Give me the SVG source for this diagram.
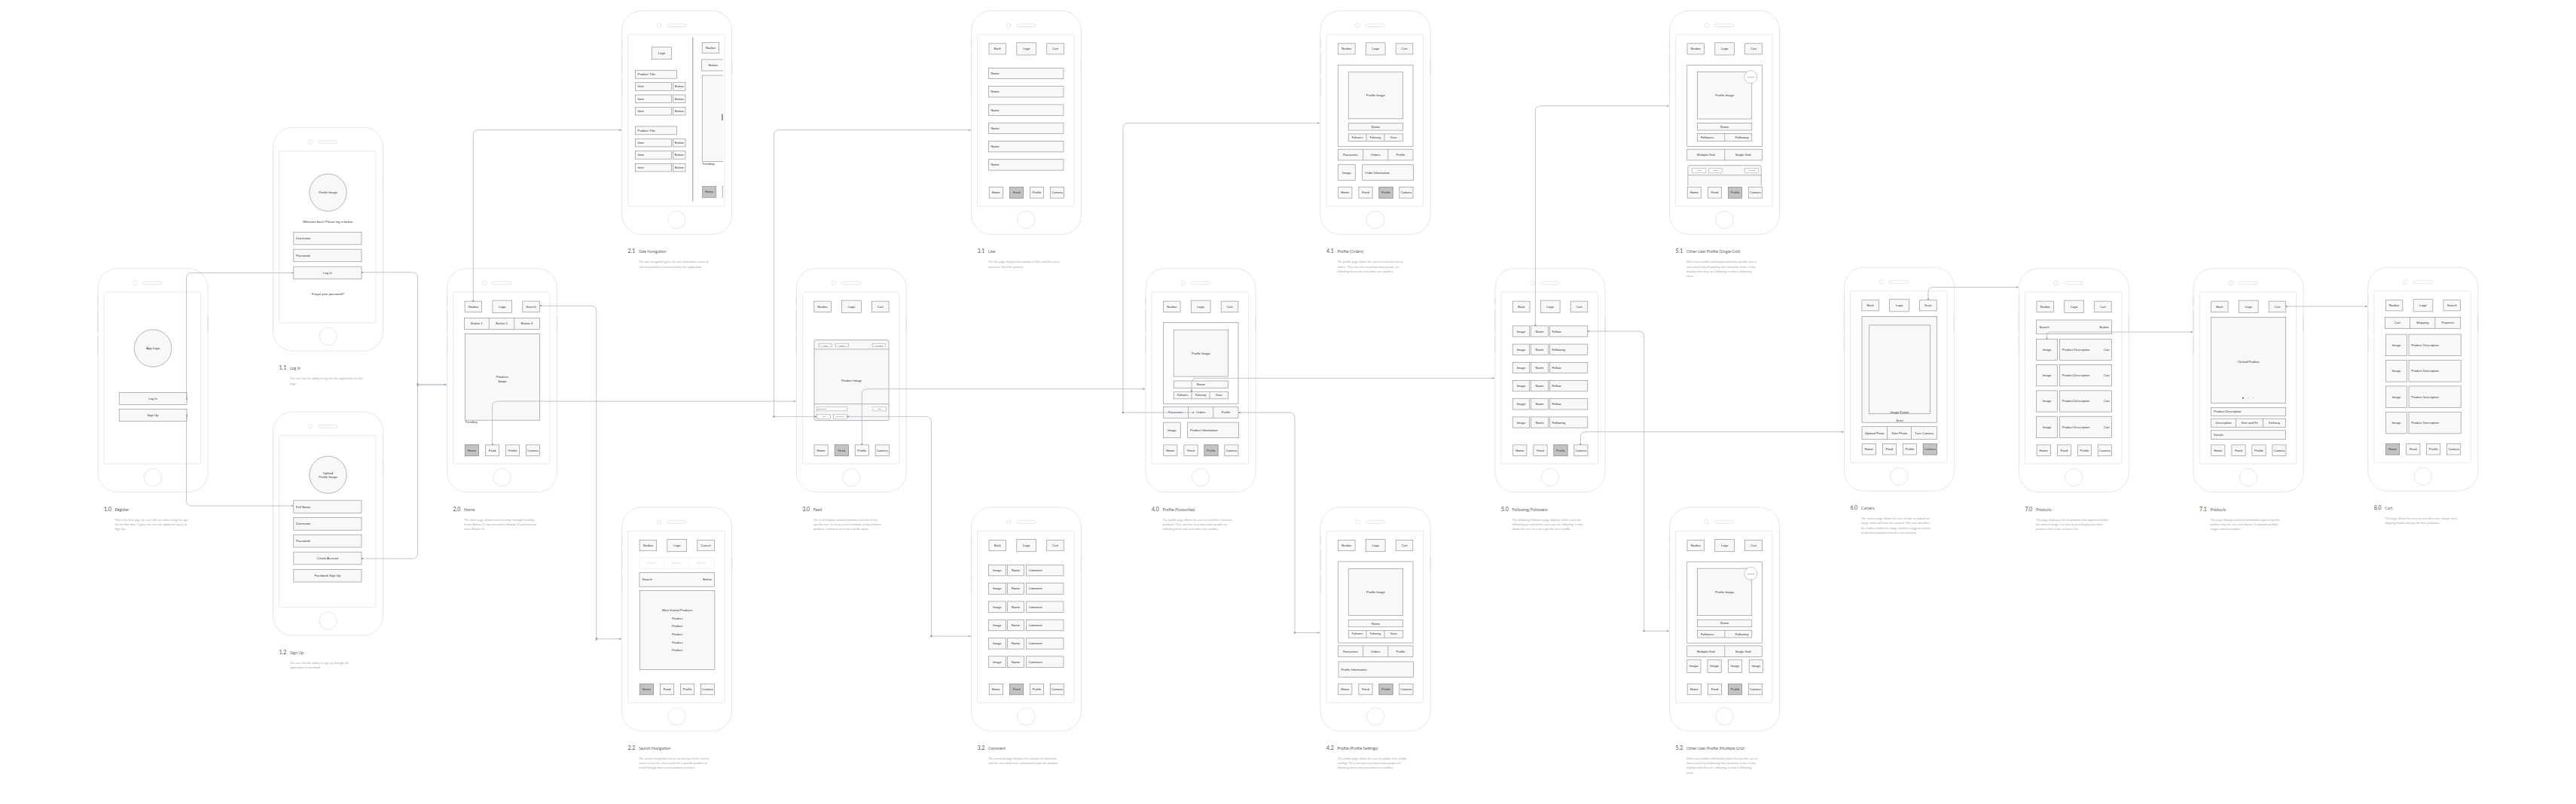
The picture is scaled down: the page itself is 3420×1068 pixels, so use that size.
<svg xmlns="http://www.w3.org/2000/svg" width="3420" height="1068" viewBox="0 0 3420 1068">
<style>
.ph{fill:#fff;stroke:#dedede;stroke-width:0.8}
.scr{fill:#fff;stroke:#e4e4e4;stroke-width:0.8}
.sb{fill:none;stroke:#e2e2e2;stroke-width:1.4}
.b{fill:#f8f8f8;stroke:#8e8e8e;stroke-width:0.65}
.bh{fill:#c3c3c3;stroke:#8e8e8e;stroke-width:0.65}
.o{fill:none;stroke:#8e8e8e;stroke-width:0.65}
.w{fill:#fff;stroke:#8e8e8e;stroke-width:0.45}
.t{font-family:"Liberation Sans",Arial,sans-serif;font-size:4.2px;fill:#333;dominant-baseline:central}
.c{text-anchor:middle}
.e{text-anchor:end}
.s{font-size:3.4px}
.xs{font-size:2.3px}
.num{font-family:Lato,"Open Sans",sans-serif;font-size:7px;fill:#555}
.ttl{font-family:Lato,"Open Sans",sans-serif;font-size:5.3px;fill:#666}
.d{font-family:Lato,"Open Sans",sans-serif;font-size:3.9px;fill:#a3a3a3}
.cn{fill:none;stroke:#a9b3c0;stroke-width:0.75}
.mk{fill:#8f9cae}
</style>
<defs>
<marker id="ar" viewBox="0 0 6 6" refX="5.5" refY="3" markerWidth="3.2" markerHeight="3.2" orient="auto" markerUnits="userSpaceOnUse"><path d="M0,0.5 L6,3 L0,5.5 Z" fill="#9aa5b4"/></marker>
<marker id="sq" viewBox="0 0 4 4" refX="2" refY="2" markerWidth="2.2" markerHeight="2.2" markerUnits="userSpaceOnUse"><rect width="4" height="4" fill="#8f9cae"/></marker>
<g id="phone">
<rect class="ph" x="0" y="0" width="146" height="297" rx="26"/>
<rect class="scr" x="8" y="31.5" width="128.5" height="228" rx="1.5"/>
<circle class="ph" cx="49.5" cy="19.4" r="2.8"/>
<rect class="ph" x="60" y="17.6" width="25.5" height="3.6" rx="1.8"/>
<circle class="ph" cx="73" cy="277.6" r="11.7"/>
<path class="sb" d="M0,38V49M0,56V84M0,90V113M146,65V84"/>
</g>
<g id="bnav">
<rect class="b" x="23.7" y="234.3" width="18.2" height="14.5"/>
<rect class="b" x="50.9" y="234.3" width="18.2" height="14.5"/>
<rect class="b" x="77.9" y="234.3" width="18.2" height="14.5"/>
<rect class="b" x="104.8" y="234.3" width="18.2" height="14.5"/>
<text class="t c" x="32.8" y="241.55">Home</text>
<text class="t c" x="60" y="241.55">Feed</text>
<text class="t c" x="87" y="241.55">Profile</text>
<text class="t c" x="113.9" y="241.55">Camera</text>
</g>
<g id="hHome"><rect class="bh" x="23.7" y="234.3" width="18.2" height="14.5"/><text class="t c" x="32.8" y="241.55">Home</text></g>
<g id="hFeed"><rect class="bh" x="50.9" y="234.3" width="18.2" height="14.5"/><text class="t c" x="60" y="241.55">Feed</text></g>
<g id="hProfile"><rect class="bh" x="77.9" y="234.3" width="18.2" height="14.5"/><text class="t c" x="87" y="241.55">Profile</text></g>
<g id="hCamera"><rect class="bh" x="104.8" y="234.3" width="18.2" height="14.5"/><text class="t c" x="113.9" y="241.55">Camera</text></g>
<g id="tbL"><rect class="b" x="60.3" y="42.5" width="25.8" height="16.2"/><text class="t c" x="73.2" y="50.6">Logo</text></g>
<g id="tbNav"><rect class="b" x="23.5" y="43.5" width="22.6" height="14.2"/><text class="t c" x="34.8" y="50.6">Navbar</text></g>
<g id="tbBack"><rect class="b" x="23.5" y="43.5" width="22.6" height="14.2"/><text class="t c" x="34.8" y="50.6">Back</text></g>
<g id="tbCart"><rect class="b" x="100.2" y="43.5" width="22.6" height="14.2"/><text class="t c" x="111.5" y="50.6">Cart</text></g>
<g id="tbSearch"><rect class="b" x="100.2" y="43.5" width="22.6" height="14.2"/><text class="t c" x="111.5" y="50.6">Search</text></g>
<g id="prof">
<rect class="o" x="23.4" y="72" width="99.6" height="108"/>
<rect class="b" x="37.2" y="81.5" width="72.5" height="62"/>
<text class="t c" x="73.45" y="112.5">Profile Image</text>
<rect class="b" x="37.2" y="149.4" width="72.5" height="9.4"/>
<text class="t c" x="73.45" y="154.1">Name</text>
<rect class="b" x="37.2" y="163.6" width="72.5" height="9.6"/>
<path class="o" d="M61,163.6V173.2M85,163.6V173.2"/>
<text class="t c s" x="49.1" y="168.4">Followers</text>
<text class="t c s" x="73" y="168.4">Following</text>
<text class="t c s" x="97.3" y="168.4">Views</text>
<rect class="b" x="23.4" y="183.9" width="99.6" height="14.7"/>
<path class="o" d="M56.6,183.9V198.6M89.8,183.9V198.6"/>
<text class="t c" x="40" y="191.25">Favourites</text>
<text class="t c" x="73.2" y="191.25">Orders</text>
<text class="t c" x="106.4" y="191.25">Profile</text>
</g>
<g id="oprof">
<rect class="o" x="23.3" y="72.2" width="99.8" height="108"/>
<rect class="b" x="37.1" y="81.1" width="72.2" height="62.6"/>
<text class="t c" x="73.2" y="112.4">Profile Image</text>
<circle class="w" cx="107.9" cy="87.9" r="8.5"/>
<text class="t c xs" x="107.9" y="87.9">Following</text>
<rect class="b" x="37.1" y="149.2" width="72.2" height="9.5"/>
<text class="t c" x="73.2" y="153.95">Name</text>
<rect class="b" x="37.1" y="163.2" width="72.2" height="9.8"/>
<path class="o" d="M73.3,163.2V173"/>
<text class="t c" x="50.4" y="168.1">Followers</text>
<text class="t c" x="96.2" y="168.1">Following</text>
<rect class="b" x="23.3" y="183.9" width="99.8" height="14.7"/>
<path class="o" d="M73.3,183.9V198.6"/>
<text class="t c" x="48.3" y="191.25">Multiple Grid</text>
<text class="t c" x="97.5" y="191.25">Single Grid</text>
</g>
<clipPath id="cp21"><rect x="95" y="32" width="39.6" height="227"/></clipPath>
</defs>
<rect width="3420" height="1068" fill="#fff"/>

<!-- 1.0 Register -->
<g id="n10" transform="translate(130,356.6)">
<use href="#phone"/>
<circle class="b" cx="73" cy="106" r="24.8"/>
<text class="t c" x="73" y="106">App Logo</text>
<rect class="b" x="28.2" y="164.8" width="89.8" height="16.2"/>
<text class="t c" x="73" y="172.9">Log In</text>
<rect class="b" x="28.2" y="186.9" width="89.8" height="16.2"/>
<text class="t c" x="73" y="195">Sign Up</text>
<text class="num" x="8" y="322">1.0</text><text class="ttl" x="22.5" y="322">Register</text>
<text class="d" y="335.2"><tspan x="22.5">This is the first page the user will see when using the app</tspan><tspan x="22.5" dy="6.1">for the first time. It gives the user the option to Log In or</tspan><tspan x="22.5" dy="6.1">Sign Up.</tspan></text>
</g>

<!-- 1.1 Log In -->
<g id="n11" transform="translate(362.5,169.3)">
<use href="#phone"/>
<circle class="b" cx="73" cy="86.5" r="24.7"/>
<text class="t c" x="73" y="86.5">Profile Image</text>
<text class="t c" x="73" y="125">Welcome back! Please log in below.</text>
<rect class="b" x="27.3" y="139" width="90.2" height="16.6"/>
<text class="t" x="30.5" y="147.3">Username</text>
<rect class="b" x="27.3" y="161.8" width="90.2" height="16.6"/>
<text class="t" x="30.5" y="170.1">Password</text>
<rect class="b" x="27.3" y="184.8" width="90.2" height="16.6"/>
<text class="t c" x="72.4" y="193.1">Log In</text>
<text class="t c" x="73" y="221.7">Forgot your password?</text>
<text class="num" x="8" y="322">1.1</text><text class="ttl" x="22.5" y="322">Log In</text>
<text class="d" y="335.2"><tspan x="22.5">The user has the ability to log into the application on this</tspan><tspan x="22.5" dy="6.1">page.</tspan></text>
</g>

<!-- 1.2 Sign Up -->
<g id="n12" transform="translate(362.5,547)">
<use href="#phone"/>
<circle class="b" cx="73" cy="83.7" r="24.7"/>
<text class="t c" x="73" y="81.3">Upload</text>
<text class="t c" x="73" y="86.9">Profile Image</text>
<rect class="b" x="27.3" y="117.8" width="90.2" height="16.6"/>
<text class="t" x="30.5" y="126.1">Full Name</text>
<rect class="b" x="27.3" y="140.6" width="90.2" height="16.6"/>
<text class="t" x="30.5" y="148.9">Username</text>
<rect class="b" x="27.3" y="163.4" width="90.2" height="16.6"/>
<text class="t" x="30.5" y="171.7">Password</text>
<rect class="b" x="27.3" y="186.2" width="90.2" height="16.6"/>
<text class="t c" x="72.4" y="194.5">Create Account</text>
<rect class="b" x="27.3" y="209.4" width="90.2" height="16.6"/>
<text class="t c" x="72.4" y="217.7">Facebook Sign Up</text>
<text class="num" x="8" y="322">1.2</text><text class="ttl" x="22.5" y="322">Sign Up</text>
<text class="d" y="335.2"><tspan x="22.5">The user has the ability to sign up through the</tspan><tspan x="22.5" dy="6.1">application or facebook.</tspan></text>
</g>

<!-- 2.0 Home -->
<g id="n20" transform="translate(593.6,356.6)">
<use href="#phone"/>
<use href="#tbNav"/><use href="#tbL"/><use href="#tbSearch"/>
<rect class="b" x="23" y="65.7" width="100" height="15"/>
<path class="o" d="M55.7,65.7V80.7M89.1,65.7V80.7"/>
<text class="t c" x="39.3" y="73.2">Button 1</text>
<text class="t c" x="72.4" y="73.2">Button 2</text>
<text class="t c" x="106" y="73.2">Button 3</text>
<rect class="b" x="23.7" y="86.9" width="99.3" height="114.7"/>
<text class="t c" x="73.3" y="144.1">Products</text>
<text class="t c" x="73.3" y="149.5">Swipe</text>
<text class="t" x="23.7" y="204.3">Trending</text>
<use href="#bnav"/><use href="#hHome"/>
<text class="num" x="8" y="322">2.0</text><text class="ttl" x="22.5" y="322">Home</text>
<text class="d" y="335.2"><tspan x="22.5">The home page allows users to swipe through trending</tspan><tspan x="22.5" dy="6.1">items (Button 1), top accessories (Button 2) and featured</tspan><tspan x="22.5" dy="6.1">icons (Button 3).</tspan></text>
</g>

<!-- 2.1 Side Navigation -->
<g id="n21" transform="translate(825.6,14.3)">
<use href="#phone"/>
<path d="M94.2,35V253" stroke="#888" stroke-width="0.9" fill="none"/>
<rect class="b" x="39.7" y="48.4" width="26.2" height="16"/>
<text class="t c" x="52.8" y="56.4">Logo</text>
<rect class="b" x="17.9" y="79" width="54.9" height="10.9"/>
<text class="t" x="21" y="84.45">Product Title</text>
<rect class="b" x="17.9" y="95.4" width="48" height="10.6"/><text class="t" x="21" y="100.7">Item</text>
<rect class="b" x="68" y="95.4" width="16.4" height="10.6"/><text class="t c" x="76.2" y="100.7">Button</text>
<rect class="b" x="17.9" y="111.7" width="48" height="10.6"/><text class="t" x="21" y="117">Item</text>
<rect class="b" x="68" y="111.7" width="16.4" height="10.6"/><text class="t c" x="76.2" y="117">Button</text>
<rect class="b" x="17.9" y="128.1" width="48" height="10.6"/><text class="t" x="21" y="133.4">Item</text>
<rect class="b" x="68" y="128.1" width="16.4" height="10.6"/><text class="t c" x="76.2" y="133.4">Button</text>
<rect class="b" x="17.9" y="153.6" width="54.9" height="10.9"/>
<text class="t" x="21" y="159.05">Product Title</text>
<rect class="b" x="17.9" y="170" width="48" height="10.6"/><text class="t" x="21" y="175.3">Item</text>
<rect class="b" x="68" y="170" width="16.4" height="10.6"/><text class="t c" x="76.2" y="175.3">Button</text>
<rect class="b" x="17.9" y="186.3" width="48" height="10.6"/><text class="t" x="21" y="191.6">Item</text>
<rect class="b" x="68" y="186.3" width="16.4" height="10.6"/><text class="t c" x="76.2" y="191.6">Button</text>
<rect class="b" x="17.9" y="203" width="48" height="10.6"/><text class="t" x="21" y="208.3">Item</text>
<rect class="b" x="68" y="203" width="16.4" height="10.6"/><text class="t c" x="76.2" y="208.3">Button</text>
<g clip-path="url(#cp21)">
<rect class="b" x="106.6" y="42.2" width="22.5" height="14"/><text class="t c" x="117.85" y="49.2">Navbar</text>
<rect class="b" x="105.9" y="64.7" width="34" height="15"/><text class="t c" x="121.1" y="72.2">Button</text>
<rect class="b" x="106.6" y="85.8" width="40" height="114.5"/>
<rect x="132.9" y="137.3" width="0.9" height="8.4" fill="#222"/>
<text class="t" x="106.6" y="203">Trending</text>
<rect class="bh" x="106.9" y="233.3" width="18.2" height="14.7"/><text class="t c" x="116" y="240.65">Home</text>
<rect class="b" x="133.6" y="233.3" width="18.2" height="14.7"/>
</g>
<text class="num" x="8" y="322">2.1</text><text class="ttl" x="22.5" y="322">Side Navigation</text>
<text class="d" y="335.2"><tspan x="22.5">The side navigation gives the user immediate access to</tspan><tspan x="22.5" dy="6.1">visit any products featured within the application.</tspan></text>
</g>

<!-- 2.2 Search Navigation -->
<g id="n22" transform="translate(825.6,674)">
<use href="#phone"/>
<use href="#tbNav"/><use href="#tbL"/>
<rect class="b" x="100.2" y="43.5" width="22.6" height="14.2"/><text class="t c" x="111.5" y="50.6">Cancel</text>
<rect x="23.3" y="66.4" width="99.6" height="15" fill="none" stroke="#ececec" stroke-width="0.6"/>
<path d="M56,66.4V81.4M88.8,66.4V81.4" stroke="#ececec" stroke-width="0.6" fill="none"/>
<text class="t c" x="39.6" y="73.9" style="fill:#dcdcdc">Button</text>
<text class="t c" x="72.4" y="73.9" style="fill:#dcdcdc">Button</text>
<text class="t c" x="105.8" y="73.9" style="fill:#dcdcdc">Button</text>
<rect class="b" x="23.3" y="86.5" width="99.6" height="18.7"/>
<text class="t" x="27" y="95.8">Search</text>
<text class="t e" x="119.5" y="95.8">Button</text>
<rect class="b" x="23.7" y="110.3" width="99.6" height="105"/>
<text class="t c" x="73.5" y="136.6">Most Visited Products</text>
<text class="t c" x="73.5" y="147.1">Product</text>
<text class="t c" x="73.5" y="157.7">Product</text>
<text class="t c" x="73.5" y="168.2">Product</text>
<text class="t c" x="73.5" y="179.1">Product</text>
<text class="t c" x="73.5" y="189.7">Product</text>
<use href="#bnav"/><use href="#hHome"/>
<text class="num" x="8" y="322">2.2</text><text class="ttl" x="22.5" y="322">Search Navigation</text>
<text class="d" y="335.2"><tspan x="22.5">The search navigation acts as an overlay on the current</tspan><tspan x="22.5" dy="6.1">screen. It lets the user search for a specific product or</tspan><tspan x="22.5" dy="6.1">scroll through their recent product searches.</tspan></text>
</g>

<!-- 3.0 Feed -->
<g id="n30" transform="translate(1057.3,356.6)">
<use href="#phone"/>
<use href="#tbNav"/><use href="#tbL"/><use href="#tbCart"/>
<rect class="b" x="23.7" y="95" width="99" height="107" rx="2.5"/>
<path class="o" d="M23.7,107.3H122.7M23.7,180H122.7"/>
<rect class="w" x="29.7" y="99.8" width="17.5" height="4.4"/><text class="t c xs" x="38.45" y="102">Logo</text>
<rect class="w" x="51.7" y="99.8" width="17.5" height="4.4"/><text class="t c xs" x="60.45" y="102">Brand</text>
<rect class="w" x="100.7" y="99.8" width="17.5" height="4.4"/><text class="t c xs" x="109.45" y="102">Add Cart</text>
<text class="t c" x="73.2" y="149.2">Product Image</text>
<rect class="w" x="27.2" y="184.2" width="40" height="5.1"/><text class="t xs" x="28.5" y="186.75">Description</text>
<rect class="w" x="101.6" y="184.2" width="17.5" height="5.1"/><text class="t c xs" x="110.35" y="186.75">Price</text>
<rect class="w" x="27.2" y="193.7" width="18.2" height="6.2"/><text class="t c xs" x="36.3" y="196.8">Like</text>
<rect class="w" x="49.1" y="193.7" width="18.1" height="6.2"/><text class="t c xs" x="58.15" y="196.8">Comment</text>
<use href="#bnav"/><use href="#hFeed"/>
<text class="num" x="8" y="322">3.0</text><text class="ttl" x="22.5" y="322">Feed</text>
<text class="d" y="335.2"><tspan x="22.5">The feed displays tailored products relevant to the</tspan><tspan x="22.5" dy="6.1">specific user. It can be used to browse or buy fashion</tspan><tspan x="22.5" dy="6.1">products, comment on items and like posts.</tspan></text>
</g>

<!-- 3.1 Like -->
<g id="n31" transform="translate(1289.5,14.3)">
<use href="#phone"/>
<use href="#tbBack"/><use href="#tbL"/><use href="#tbCart"/>
<rect class="b" x="22.9" y="76" width="99.6" height="14.4"/><text class="t" x="26" y="83.2">Name</text>
<rect class="b" x="22.9" y="100.3" width="99.6" height="14.4"/><text class="t" x="26" y="107.5">Name</text>
<rect class="b" x="22.9" y="124.6" width="99.6" height="14.4"/><text class="t" x="26" y="131.8">Name</text>
<rect class="b" x="22.9" y="148.9" width="99.6" height="14.4"/><text class="t" x="26" y="156.1">Name</text>
<rect class="b" x="22.9" y="173.1" width="99.6" height="14.4"/><text class="t" x="26" y="180.3">Name</text>
<rect class="b" x="22.9" y="197.4" width="99.6" height="14.4"/><text class="t" x="26" y="204.6">Name</text>
<use href="#bnav"/><use href="#hFeed"/>
<text class="num" x="8" y="322">3.1</text><text class="ttl" x="22.5" y="322">Like</text>
<text class="d" y="335.2"><tspan x="22.5">The like page displays the amount of likes and the users</tspan><tspan x="22.5" dy="6.1">who have liked the product.</tspan></text>
</g>

<!-- 3.2 Comment -->
<g id="n32" transform="translate(1289.5,674)">
<use href="#phone"/>
<use href="#tbBack"/><use href="#tbL"/><use href="#tbCart"/>
<g id="crow">
<rect class="b" x="22.9" y="76.3" width="22.9" height="14.6"/><text class="t c" x="34.35" y="83.6">Image</text>
<rect class="b" x="48" y="76.3" width="22.1" height="14.6"/><text class="t c" x="59.05" y="83.6">Name</text>
<rect class="b" x="73" y="76.3" width="49.5" height="14.6"/><text class="t" x="76" y="83.6">Comment</text>
</g>
<use href="#crow" y="24.3"/><use href="#crow" y="48.6"/><use href="#crow" y="72.9"/><use href="#crow" y="97.2"/><use href="#crow" y="121.5"/>
<use href="#bnav"/><use href="#hFeed"/>
<text class="num" x="8" y="322">3.2</text><text class="ttl" x="22.5" y="322">Comment</text>
<text class="d" y="335.2"><tspan x="22.5">The comment page displays the amount of comments</tspan><tspan x="22.5" dy="6.1">and the users who have commented upon the product.</tspan></text>
</g>

<!-- 4.0 Profile (Favourites) -->
<g id="n40" transform="translate(1521,356.6)">
<use href="#phone"/>
<use href="#tbNav"/><use href="#tbL"/><use href="#tbCart"/>
<use href="#prof"/>
<rect class="b" x="23.4" y="204.5" width="22.9" height="20.6"/><text class="t c" x="34.85" y="214.8">Image</text>
<rect class="b" x="55.7" y="204.5" width="68" height="20.6"/><text class="t" x="59" y="214.8">Product Information</text>
<use href="#bnav"/><use href="#hProfile"/>
<text class="num" x="8" y="322">4.0</text><text class="ttl" x="22.5" y="322">Profile (Favourites)</text>
<text class="d" y="335.2"><tspan x="22.5">The profile page allows the user to view their favourite</tspan><tspan x="22.5" dy="6.1">products. They can also view how many people are</tspan><tspan x="22.5" dy="6.1">following them and view other user profiles.</tspan></text>
</g>

<!-- 4.1 Profile (Orders) -->
<g id="n41" transform="translate(1753,14.3)">
<use href="#phone"/>
<use href="#tbNav"/><use href="#tbL"/><use href="#tbCart"/>
<use href="#prof"/>
<rect class="b" x="23.4" y="204.5" width="22.9" height="20.6"/><text class="t c" x="34.85" y="214.8">Image</text>
<rect class="b" x="55.7" y="204.5" width="68" height="20.6"/><text class="t" x="59" y="214.8">Order Information</text>
<use href="#bnav"/><use href="#hProfile"/>
<text class="num" x="8" y="322">4.1</text><text class="ttl" x="22.5" y="322">Profile (Orders)</text>
<text class="d" y="335.2"><tspan x="22.5">The profile page allows the user to view their latest</tspan><tspan x="22.5" dy="6.1">orders. They can also view how many people are</tspan><tspan x="22.5" dy="6.1">following them and view other user profiles.</tspan></text>
</g>

<!-- 4.2 Profile (Profile Settings) -->
<g id="n42" transform="translate(1753,674)">
<use href="#phone"/>
<use href="#tbNav"/><use href="#tbL"/><use href="#tbCart"/>
<use href="#prof"/>
<rect class="b" x="24" y="205" width="99.6" height="20.5"/><text class="t" x="27.5" y="215.25">Profile Information</text>
<use href="#bnav"/><use href="#hProfile"/>
<text class="num" x="8" y="322">4.2</text><text class="ttl" x="22.5" y="322">Profile (Profile Settings)</text>
<text class="d" y="335.2"><tspan x="22.5">The profile page allows the user to update their profile</tspan><tspan x="22.5" dy="6.1">settings. They can also view how many people are</tspan><tspan x="22.5" dy="6.1">following them and view other user profiles.</tspan></text>
</g>

<!-- 5.0 Following/Followers -->
<g id="n50" transform="translate(1985,356.6)">
<use href="#phone"/>
<use href="#tbBack"/><use href="#tbL"/><use href="#tbCart"/>
<g id="frow">
<rect class="b" x="23.2" y="76.3" width="22.5" height="14.3"/><text class="t c" x="34.45" y="83.45">Image</text>
<rect class="b" x="47.5" y="76.3" width="23" height="14.3"/><text class="t c" x="59" y="83.45">Name</text>
<rect class="b" x="72.6" y="76.3" width="50.2" height="14.3"/>
</g>
<text class="t" x="75.5" y="83.45">Follow</text>
<use href="#frow" y="24.2"/><text class="t" x="75.5" y="107.65">Following</text>
<use href="#frow" y="48.4"/><text class="t" x="75.5" y="131.85">Follow</text>
<use href="#frow" y="72.6"/><text class="t" x="75.5" y="156.05">Follow</text>
<use href="#frow" y="96.8"/><text class="t" x="75.5" y="180.25">Follow</text>
<use href="#frow" y="121"/><text class="t" x="75.5" y="204.45">Following</text>
<use href="#bnav"/><use href="#hProfile"/>
<text class="num" x="8" y="322">5.0</text><text class="ttl" x="22.5" y="322">Following/Followers</text>
<text class="d" y="335.2"><tspan x="22.5">The following/followers page displays which users are</tspan><tspan x="22.5" dy="6.1">following you and which users you are following. It also</tspan><tspan x="22.5" dy="6.1">allows the user to view a specific users profile.</tspan></text>
</g>

<!-- 5.1 Other User Profile (Single Grid) -->
<g id="n51" transform="translate(2216.5,14.3)">
<use href="#phone"/>
<use href="#tbNav"/><use href="#tbL"/><use href="#tbCart"/>
<use href="#oprof"/>
<path class="b" d="M24.4,232.6V208Q24.4,205.4 27,205.4H119.1Q121.7,205.4 121.7,208V232.6"/>
<path class="o" d="M24.4,218.3H121.7"/>
<rect class="w" x="30.2" y="209.5" width="18.2" height="5.4"/><text class="t c xs" x="39.3" y="212.2">Logo</text>
<rect class="w" x="52" y="209.5" width="18.2" height="5.4"/><text class="t c xs" x="61.1" y="212.2">Brand</text>
<rect class="w" x="99.9" y="209.5" width="18.1" height="5.4"/><text class="t c xs" x="108.95" y="212.2">Add Cart</text>
<use href="#bnav"/><use href="#hProfile"/>
<text class="num" x="8" y="322">5.1</text><text class="ttl" x="22.5" y="322">Other User Profile (Single Grid)</text>
<text class="d" y="335.2"><tspan x="22.5">Other user profiles will display what the specific user is</tspan><tspan x="22.5" dy="6.1">interested in by displaying their favourite items. It also</tspan><tspan x="22.5" dy="6.1">displays who they are following or who is following</tspan><tspan x="22.5" dy="6.1">them.</tspan></text>
</g>

<!-- 5.2 Other User Profile (Multiple Grid) -->
<g id="n52" transform="translate(2216.5,674)">
<use href="#phone"/>
<use href="#tbNav"/><use href="#tbL"/><use href="#tbCart"/>
<use href="#oprof"/>
<rect class="b" x="23.3" y="202.3" width="18.2" height="17"/><text class="t c" x="32.4" y="210.8">Image</text>
<rect class="b" x="50.5" y="202.3" width="18.2" height="17"/><text class="t c" x="59.6" y="210.8">Image</text>
<rect class="b" x="78" y="202.3" width="18.2" height="17"/><text class="t c" x="87.1" y="210.8">Image</text>
<rect class="b" x="105.7" y="202.3" width="18.2" height="17"/><text class="t c" x="114.8" y="210.8">Image</text>
<use href="#bnav"/><use href="#hProfile"/>
<text class="num" x="8" y="322">5.2</text><text class="ttl" x="22.5" y="322">Other User Profile (Multiple Grid)</text>
<text class="d" y="335.2"><tspan x="22.5">Other user profiles will display what that specific user is</tspan><tspan x="22.5" dy="6.1">interested in by displaying their favourite items. It also</tspan><tspan x="22.5" dy="6.1">displays who they are following or who is following</tspan><tspan x="22.5" dy="6.1">them.</tspan></text>
</g>

<!-- 6.0 Camera -->
<g id="n60" transform="translate(2448.4,355.2)">
<use href="#phone"/>
<use href="#tbBack"/><use href="#tbL"/>
<rect class="b" x="100.2" y="43.5" width="22.6" height="14.2"/><text class="t c" x="111.5" y="50.6">Scan</text>
<rect class="b" x="23.6" y="65.4" width="99.6" height="140.6"/>
<rect class="b" x="33.1" y="76.7" width="81" height="117.8"/>
<text class="t c" x="73.6" y="192.2">Image Frame</text>
<text class="t c" x="73.6" y="203.7">Scan</text>
<rect class="b" x="23.6" y="211.5" width="99.6" height="17"/>
<path class="o" d="M57.1,211.5V228.5M89.1,211.5V228.5"/>
<text class="t c" x="40.3" y="220">Upload Photo</text>
<text class="t c" x="73.1" y="220">Take Photo</text>
<text class="t c" x="106.2" y="220">Turn Camera</text>
<use href="#bnav"/><use href="#hCamera"/>
<text class="num" x="8" y="322">6.0</text><text class="ttl" x="22.5" y="322">Camera</text>
<text class="d" y="335.2"><tspan x="22.5">The camera page allows the user to take or upload an</tspan><tspan x="22.5" dy="6.1">image which will then be scanned. This scan identifies</tspan><tspan x="22.5" dy="6.1">the clothes within the image and then suggests similar</tspan><tspan x="22.5" dy="6.1">or identical products that the user may buy.</tspan></text>
</g>

<!-- 7.0 Products -->
<g id="n70" transform="translate(2680.4,356.6)">
<use href="#phone"/>
<use href="#tbNav"/><use href="#tbL"/><use href="#tbCart"/>
<rect class="b" x="23.2" y="68.4" width="99.7" height="18.7"/>
<text class="t" x="27" y="77.75">Search</text>
<text class="t e" x="119.3" y="77.75">Button</text>
<g id="prow">
<rect class="b" x="23.2" y="93.7" width="28" height="28.2"/><text class="t c" x="37.2" y="107.8">Image</text>
<rect class="b" x="54.1" y="93.7" width="69.1" height="28.2"/><text class="t" x="57.3" y="107.8">Product Description</text>
<text class="t e" x="120.2" y="107.8">Cart</text>
</g>
<use href="#prow" y="34.3"/><use href="#prow" y="68.6"/><use href="#prow" y="102.9"/>
<use href="#bnav"/>
<text class="num" x="8" y="322">7.0</text><text class="ttl" x="22.5" y="322">Products</text>
<text class="d" y="335.2"><tspan x="22.5">This page displays a list of products that appeared within</tspan><tspan x="22.5" dy="6.1">the camera image. It is also used to display any other</tspan><tspan x="22.5" dy="6.1">products that a user searches for.</tspan></text>
</g>

<!-- 7.1 Products detail -->
<g id="n71" transform="translate(2912,356.6)">
<use href="#phone"/>
<use href="#tbBack"/><use href="#tbL"/><use href="#tbCart"/>
<rect class="b" x="23.5" y="64.7" width="99.2" height="114.1"/>
<text class="t c" x="73.1" y="124.4">Clicked Product</text>
<circle cx="66" cy="172" r="0.9" fill="#222"/>
<circle cx="72.5" cy="172" r="0.9" fill="#d0d0d0"/>
<circle cx="79" cy="172" r="0.9" fill="#d0d0d0"/>
<rect class="b" x="23.5" y="184.9" width="99.2" height="11"/>
<text class="t" x="27" y="190.4">Product Description</text>
<rect class="b" x="23.5" y="199.5" width="99.2" height="11.3"/>
<path class="o" d="M56.5,199.5V210.8M92.5,199.5V210.8"/>
<text class="t c" x="40" y="205.15">Description</text>
<text class="t c" x="74.5" y="205.15">Size and Fit</text>
<text class="t c" x="107.6" y="205.15">Delivery</text>
<rect class="b" x="23.5" y="215.2" width="99.2" height="11.6"/>
<text class="t" x="27" y="221">Details</text>
<use href="#bnav"/>
<text class="num" x="8" y="322">7.1</text><text class="ttl" x="22.5" y="322">Products</text>
<text class="d" y="335.2"><tspan x="22.5">This page displays detailed information upon a specific</tspan><tspan x="22.5" dy="6.1">product that the user has chosen. It contains multiple</tspan><tspan x="22.5" dy="6.1">images and description.</tspan></text>
</g>

<!-- 8.0 Cart -->
<g id="n80" transform="translate(3143.8,355.2)">
<use href="#phone"/>
<use href="#tbNav"/><use href="#tbL"/><use href="#tbSearch"/>
<rect class="b" x="22.6" y="66.1" width="100.3" height="15"/>
<path class="o" d="M55.7,66.1V81.1M89.1,66.1V81.1"/>
<text class="t c" x="39.1" y="73.6">Cart</text>
<text class="t c" x="72.4" y="73.6">Shipping</text>
<text class="t c" x="106" y="73.6">Payment</text>
<g id="krow">
<rect class="b" x="23.7" y="88.9" width="28" height="28.6"/><text class="t c" x="37.7" y="103.2">Image</text>
<rect class="b" x="54.2" y="88.9" width="69.2" height="28.6"/><text class="t" x="57.5" y="103.2">Product Description</text>
</g>
<use href="#krow" y="34.4"/><use href="#krow" y="68.8"/><use href="#krow" y="103.2"/>
<use href="#bnav"/><use href="#hHome"/>
<text class="num" x="8" y="322">8.0</text><text class="ttl" x="22.5" y="322">Cart</text>
<text class="d" y="335.2"><tspan x="22.5">This page allows the user to view their cart, change their</tspan><tspan x="22.5" dy="6.1">shipping details and pay for their products.</tspan></text>
</g>

<!-- connectors -->
<g id="connectors">
<path class="cn" marker-start="url(#sq)" marker-end="url(#ar)" d="M248,529.6H247.5V369.5Q247.5,362.5 254.5,362.5H389.5"/>
<path class="cn" marker-start="url(#sq)" marker-end="url(#ar)" d="M248,552.4H247.5V665Q247.5,672 254.5,672H389.5"/>
<path class="cn" marker-start="url(#sq)" marker-end="url(#ar)" d="M481,361.7H547.5Q554.5,361.7 554.5,368.7V511H592.5"/>
<path class="cn" marker-start="url(#sq)" marker-end="url(#ar)" d="M481,742H547.5Q554.5,742 554.5,735V511H592.5"/>
<rect class="mk" x="553.6" y="509" width="1.8" height="4"/>
<path class="cn" marker-start="url(#sq)" marker-end="url(#ar)" d="M628.2,400V179.7Q628.2,172.7 635.2,172.7H825"/>
<path class="cn" marker-start="url(#sq)" marker-end="url(#ar)" d="M717.6,406.3H784.8Q791.8,406.3 791.8,413.3V848.7H825"/>
<rect class="mk" x="790.9" y="846.7" width="1.8" height="4"/>
<path class="cn" marker-start="url(#sq)" marker-end="url(#ar)" d="M653.6,590.5V540Q653.6,533 660.6,533H1056.5"/>
<path class="cn" marker-start="url(#sq)" marker-end="url(#ar)" d="M1082.7,553.4H1027.5V179.7Q1027.5,172.7 1034.5,172.7H1288.8"/>
<rect class="mk" x="1026.4" y="552.3" width="2.2" height="2.2"/>
<path class="cn" marker-start="url(#sq)" marker-end="url(#ar)" d="M1125.6,553.4H1229.4Q1236.4,553.4 1236.4,560.4V845H1288.8"/>
<rect class="mk" x="1235.3" y="843.9" width="2.2" height="2.2"/>
<path class="cn" marker-start="url(#sq)" marker-end="url(#ar)" d="M1144.4,590V523.7Q1144.4,516.7 1151.4,516.7H1520.3"/>
<path class="cn" marker-start="url(#sq)" marker-end="url(#ar)" d="M1584.4,548H1491V170.5Q1491,163.5 1498,163.5H1752.3"/>
<rect class="mk" x="1489.9" y="546.9" width="2.2" height="2.2"/>
<path class="cn" marker-start="url(#sq)" marker-end="url(#ar)" d="M1645.5,548H1712Q1719,548 1719,555V840.5H1752.3"/>
<rect class="mk" x="1717.9" y="839.4" width="2.2" height="2.2"/>
<path class="cn" marker-start="url(#sq)" marker-end="url(#ar)" d="M1582,519V509.4Q1582,502.4 1589,502.4H1984.3"/>
<path class="cn" marker-start="url(#sq)" marker-end="url(#ar)" d="M2038.4,432V147.7Q2038.4,140.7 2045.4,140.7H2215.8"/>
<path class="cn" marker-start="url(#sq)" marker-end="url(#ar)" d="M2109.3,440H2175.7Q2182.7,440 2182.7,447V838.2H2215.8"/>
<rect class="mk" x="2181.6" y="837.1" width="2.2" height="2.2"/>
<path class="cn" marker-start="url(#sq)" marker-end="url(#ar)" d="M2098.4,590V580.7Q2098.4,573.7 2105.4,573.7H2447.7"/>
<path class="cn" marker-start="url(#sq)" marker-end="url(#ar)" d="M2560,397.5V388.5Q2560,381.5 2567,381.5H2679.7"/>
<path class="cn" marker-start="url(#sq)" marker-end="url(#ar)" d="M2717.5,450V444.5Q2717.5,441 2721,441H2911.3"/>
<path class="cn" marker-start="url(#sq)" marker-end="url(#ar)" d="M3035.5,407H3143.1"/>
</g>
</svg>
